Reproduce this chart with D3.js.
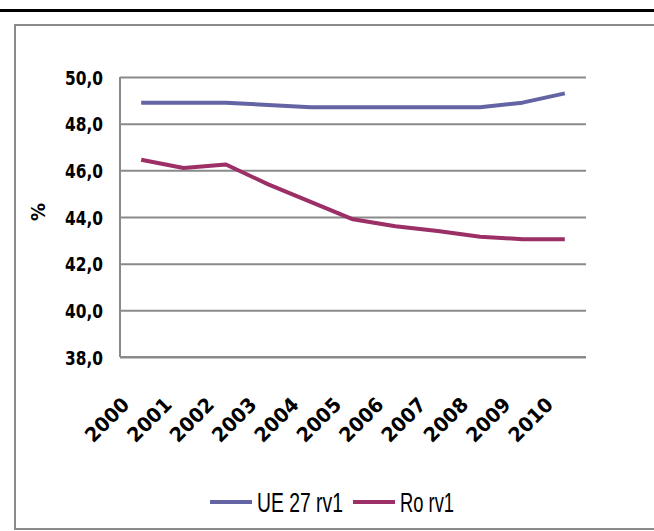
<!DOCTYPE html>
<html>
<head>
<meta charset="utf-8">
<script src="https://cdn.jsdelivr.net/npm/d3@7"></script>
<style>
  html, body { margin: 0; padding: 0; background: #fff; }
  svg { display: block; }
</style>
</head>
<body>
<svg id="chart" width="654" height="531"></svg>
<script>
// Years on the category axis
const years = ["2000","2001","2002","2003","2004","2005","2006","2007","2008","2009","2010"];
// Series values (%)
const ueValues = [48.9, 48.9, 48.9, 48.8, 48.7, 48.7, 48.7, 48.7, 48.7, 48.9, 49.3];
const roValues = [46.45, 46.1, 46.25, 45.4, 44.65, 43.9, 43.6, 43.4, 43.15, 43.05, 43.05];
// Value axis ticks
const yTicks = [38, 40, 42, 44, 46, 48, 50];
const seriesNames = ["UE 27 rv1", "Ro rv1"];
const seriesColors = ["#6464a4", "#9b2f66"];

const svg = d3.select("#chart");
const plot = { left: 120, right: 586, top: 77, bottom: 357 };
const labelFont = "'DejaVu Sans Condensed', 'DejaVu Sans', sans-serif";

// Top rule and outer frame
svg.append("rect").attr("x", 0).attr("y", 9).attr("width", 654).attr("height", 3).attr("fill", "#000");
svg.append("rect").attr("x", 15).attr("y", 25).attr("width", 660).attr("height", 504)
  .attr("fill", "none").attr("stroke", "#8a8a8a").attr("stroke-width", 2);

const x = d3.scalePoint().domain(years).range([plot.left, plot.right]).padding(0.5);
const y = d3.scaleLinear().domain([38, 50]).range([plot.bottom, plot.top]);

const fmt = d => d.toFixed(1).replace(".", ",");

// Horizontal gridlines + value labels
const yAxis = svg.append("g").attr("transform", `translate(${plot.left},0)`)
  .call(d3.axisLeft(y).tickValues(yTicks).tickFormat(fmt)
    .tickSize(-(plot.right - plot.left)).tickPadding(17));
yAxis.select(".domain").remove();
yAxis.selectAll(".tick line").attr("stroke", "#8a8a8a").attr("stroke-width", 2);
yAxis.selectAll(".tick text")
  .attr("font-family", labelFont)
  .attr("font-weight", "bold").attr("font-size", 20).attr("fill", "#000")
  .attr("dy", "0.36em")
  .attr("textLength", 38).attr("lengthAdjust", "spacingAndGlyphs");

// Left axis line
svg.append("line").attr("x1", plot.left).attr("x2", plot.left)
  .attr("y1", plot.top).attr("y2", plot.bottom)
  .attr("stroke", "#8a8a8a").attr("stroke-width", 2);

// Category labels, rotated
const xAxis = svg.append("g").attr("transform", `translate(0,${plot.bottom})`)
  .call(d3.axisBottom(x).tickSize(0).tickFormat(d => d));
xAxis.select(".domain").remove();
xAxis.selectAll(".tick text")
  .attr("font-family", labelFont)
  .attr("font-weight", "bold").attr("font-size", 20).attr("fill", "#000")
  .attr("text-anchor", "end").attr("dy", 0).attr("y", 0)
  .attr("textLength", 53).attr("lengthAdjust", "spacingAndGlyphs")
  .attr("transform", "translate(-11,49) rotate(-45)");

// Axis baseline
svg.append("line").attr("x1", plot.left).attr("x2", plot.right)
  .attr("y1", plot.bottom).attr("y2", plot.bottom)
  .attr("stroke", "#8a8a8a").attr("stroke-width", 2);

// Y axis title
svg.append("text").attr("transform", "translate(45,212) rotate(-90)")
  .attr("text-anchor", "middle")
  .attr("font-family", labelFont)
  .attr("font-weight", "bold").attr("font-size", 20).text("%");

// Series lines
const line = d3.line().x((d, i) => x(years[i])).y(d => y(d));
[ueValues, roValues].forEach((vals, k) => {
  svg.append("path").datum(vals).attr("d", line)
    .attr("fill", "none").attr("stroke", seriesColors[k])
    .attr("stroke-width", 4).attr("stroke-linejoin", "round");
});

// Legend
const legend = [
  { x1: 210, x2: 252, tx: 257, tw: 86 },
  { x1: 353, x2: 395, tx: 400, tw: 54 }
];
legend.forEach((l, k) => {
  svg.append("line").attr("x1", l.x1).attr("x2", l.x2).attr("y1", 502).attr("y2", 502)
    .attr("stroke", seriesColors[k]).attr("stroke-width", 4);
  svg.append("text").attr("x", l.tx).attr("y", 512)
    .attr("font-family", "'Liberation Sans Narrow', 'Liberation Sans', Arial, sans-serif")
    .attr("font-size", 27).attr("fill", "#000")
    .attr("textLength", l.tw).attr("lengthAdjust", "spacingAndGlyphs")
    .text(seriesNames[k]);
});
</script>
</body>
</html>
